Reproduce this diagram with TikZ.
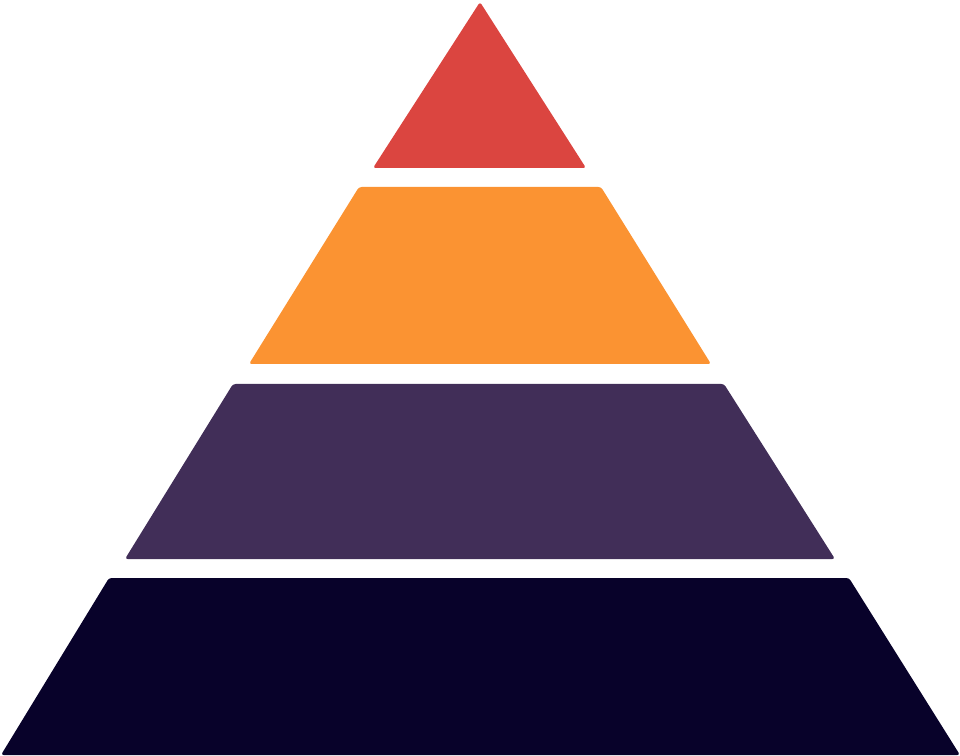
\documentclass[tikz,border=0pt]{standalone}
\usepackage{xcolor}
\usepackage{tikz}

\definecolor{rojo}{HTML}{DB4540}
\definecolor{naranja}{HTML}{FB9332}
\definecolor{morado}{HTML}{412E58}
\definecolor{noche}{HTML}{08022A}

\begin{document}
\begin{tikzpicture}[x=0.02cm, y=-0.02cm,
  capa/.style={draw=none, rounded corners=1.5pt}]
\useasboundingbox (0,0) rectangle (960,756);
% cuspide
\fill[capa, rojo] (480,2) -- (586,168) -- (373,168) -- cycle;
% segundo nivel
\fill[capa, naranja] (359,187) -- (601,187) -- (711,364) -- (249,364) -- cycle;
% tercer nivel
\fill[capa, morado] (233,384) -- (724,384) -- (835,559) -- (125,559) -- cycle;
% base
\fill[capa, noche] (109,578) -- (849,578) -- (960,755) -- (1,755) -- cycle;
\end{tikzpicture}
\end{document}
